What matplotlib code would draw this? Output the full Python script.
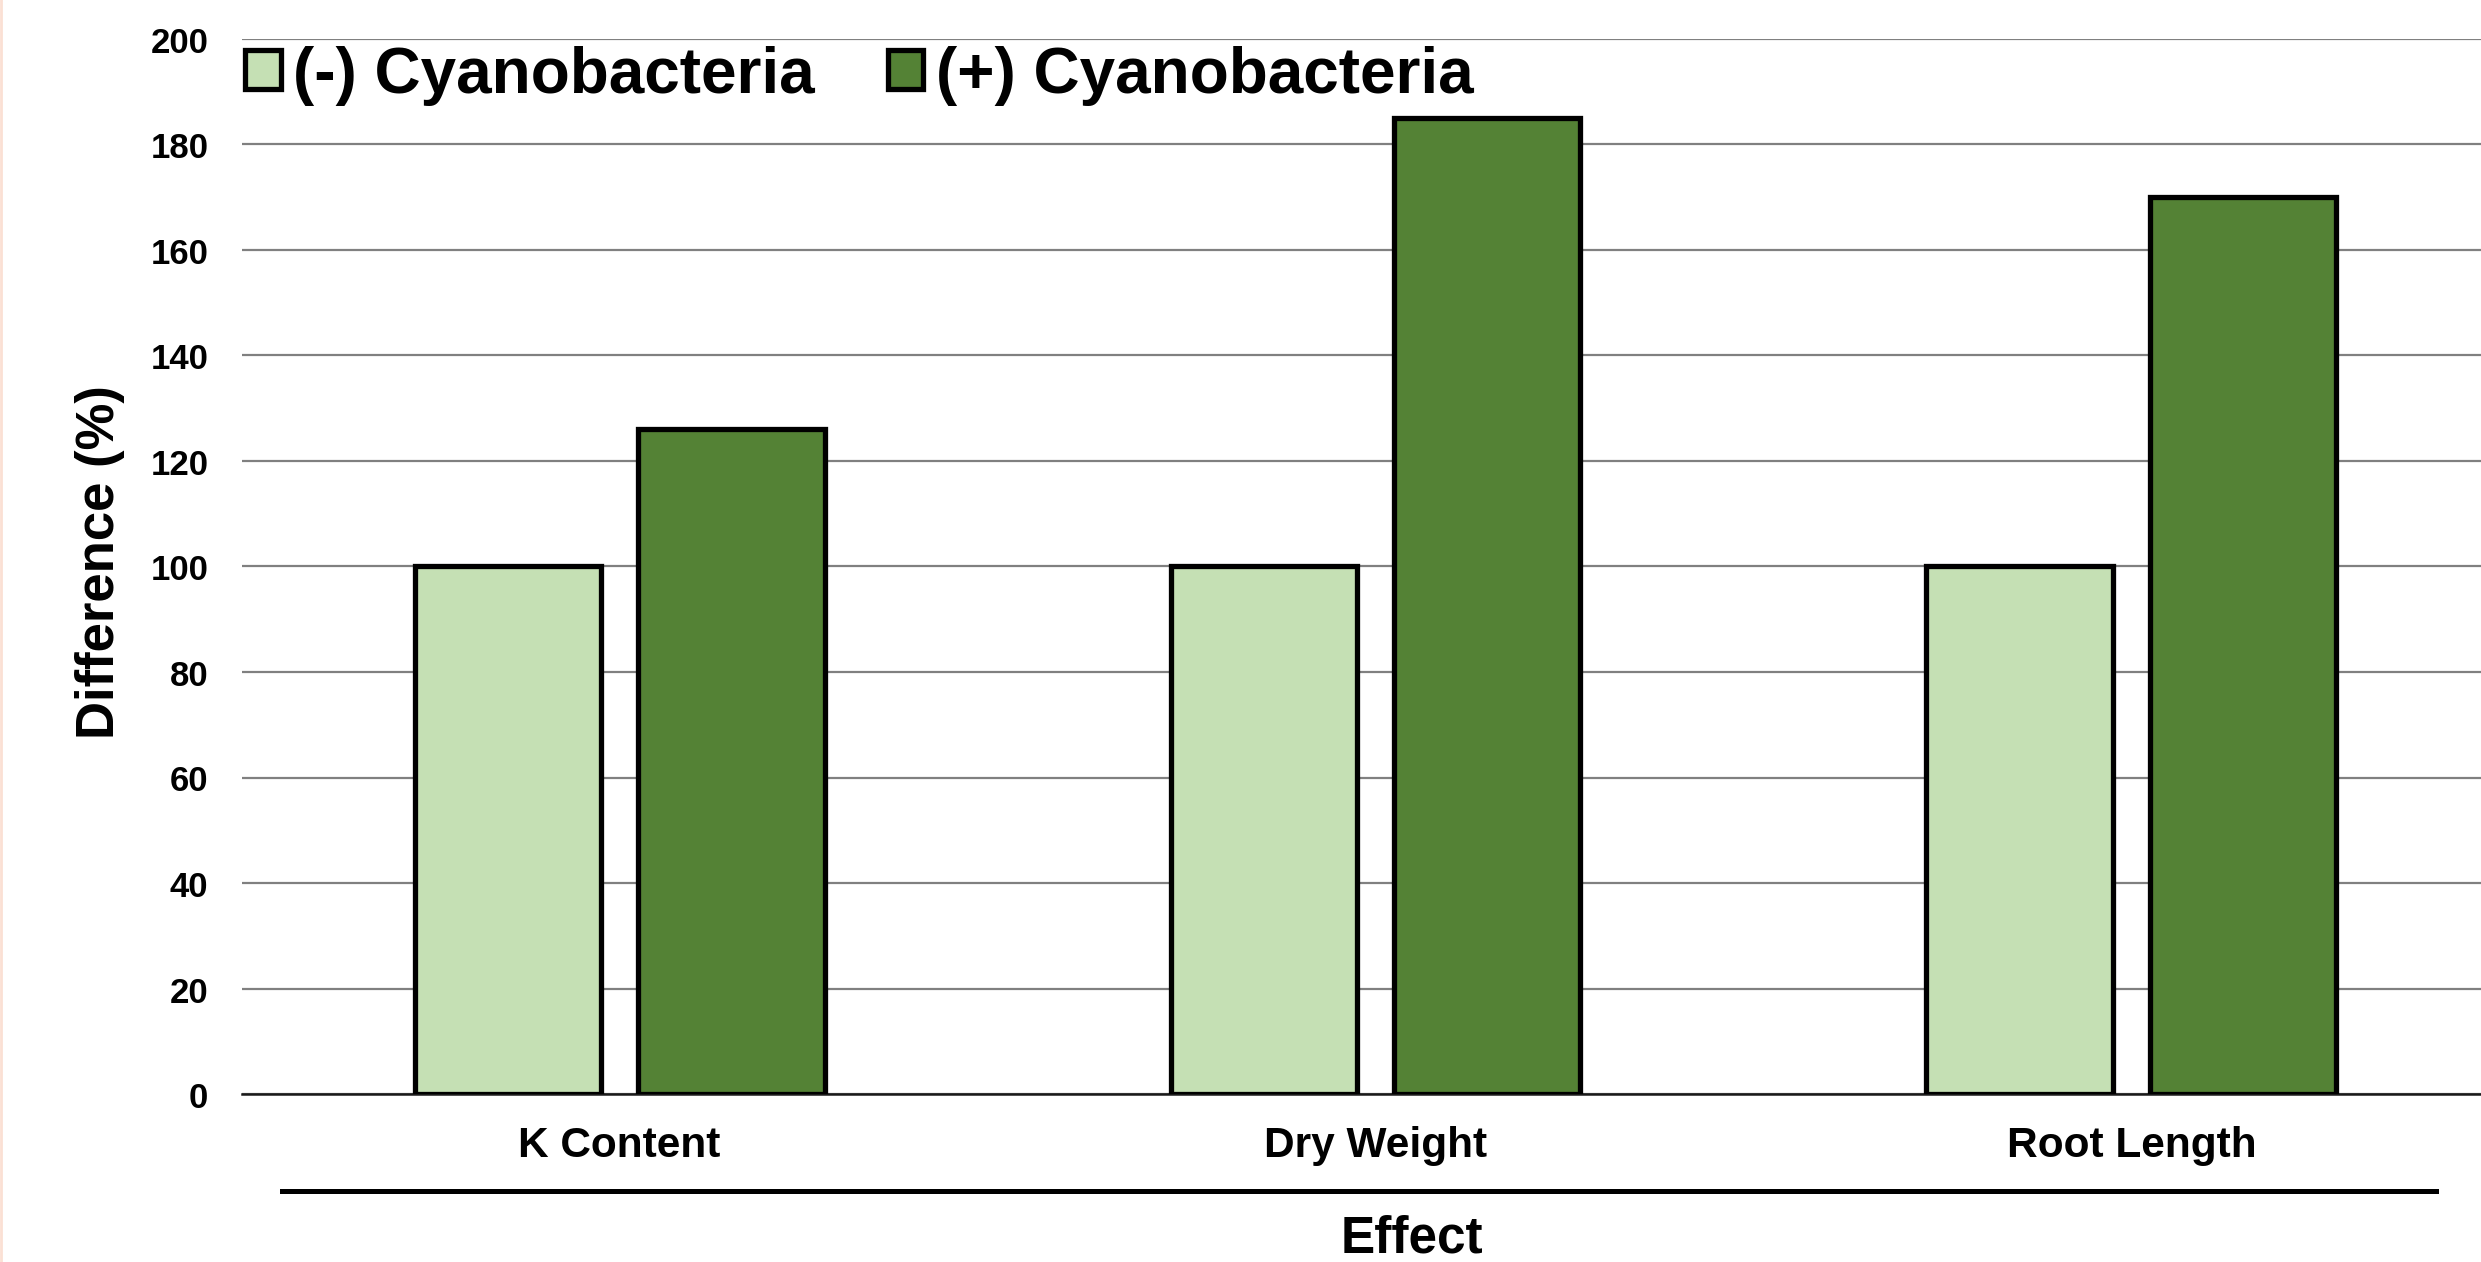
import numpy as np
import matplotlib.pyplot as plt
from matplotlib.patches import Patch
from matplotlib.lines import Line2D

plt.rcParams['font.family'] = ['Liberation Sans', 'DejaVu Sans']
plt.rcParams['font.weight'] = 'bold'

# data
categories = ['K Content', 'Dry Weight', 'Root Length']
minus_cyano = [100, 100, 100]
plus_cyano = [126, 185, 170]
series_names = ['(-) Cyanobacteria', '(+) Cyanobacteria']
y_ticks = [0, 20, 40, 60, 80, 100, 120, 140, 160, 180, 200]

light_green = '#C5E0B4'
dark_green = '#548235'

fig = plt.figure(figsize=(24.81, 12.629), dpi=100)
# axes runs slightly past the right edge, as in the reference (cropped)
ax = fig.add_axes([0.0974, 0.1328, 0.914, 0.8359])

x = np.arange(len(categories))
bar_w = 0.247
offset = 0.1476
ax.bar(x - offset, minus_cyano, width=bar_w, color=light_green,
       edgecolor='black', linewidth=3.8, zorder=3)
ax.bar(x + offset, plus_cyano, width=bar_w, color=dark_green,
       edgecolor='black', linewidth=3.8, zorder=3)

ax.set_xlim(-0.5, 2.5)
ax.set_ylim(0, 200)
ax.set_yticks(y_ticks)
ax.set_xticks(x)
ax.set_xticklabels(categories)
ax.tick_params(axis='y', length=0, pad=24, labelsize=25)
ax.tick_params(axis='x', length=0, pad=22, labelsize=30.5)
for lab in ax.get_xticklabels() + ax.get_yticklabels():
    lab.set_fontweight('bold')

ax.yaxis.grid(True, color='#808080', linewidth=1.6, zorder=0)
ax.set_axisbelow(True)
for s in ['top', 'right', 'left']:
    ax.spines[s].set_visible(False)
ax.spines['bottom'].set_color('#1a1a1a')
ax.spines['bottom'].set_linewidth(1.8)

ax.set_ylabel('Difference (%)', fontsize=38, fontweight='bold')
ax.yaxis.set_label_coords(-0.0515, 0.505)

# legend
handles = [Patch(facecolor=light_green, edgecolor='black', linewidth=3.8),
           Patch(facecolor=dark_green, edgecolor='black', linewidth=3.8)]
fig.legend(handles, series_names, loc='center left',
           bbox_to_anchor=(0.0989, 0.94), bbox_transform=fig.transFigure,
           ncol=2, frameon=False, prop={'weight': 'bold', 'size': 46},
           handlelength=0.55, handleheight=0.55, handletextpad=0.2,
           columnspacing=1.14, borderpad=0, borderaxespad=0)

# category group line and axis title below
fig.add_artist(Line2D([0.1135, 0.982], [0.0564, 0.0564], color='black',
                      linewidth=3.6, transform=fig.transFigure))
fig.text(0.569, 0.0188, 'Effect', fontsize=37, fontweight='bold',
         ha='center', va='center')

# faint border at the left edge
fig.add_artist(Line2D([0.0006, 0.0006], [0, 1], color='#fbe0d4',
                      linewidth=2, transform=fig.transFigure))

fig.savefig('out.png', dpi=100)
